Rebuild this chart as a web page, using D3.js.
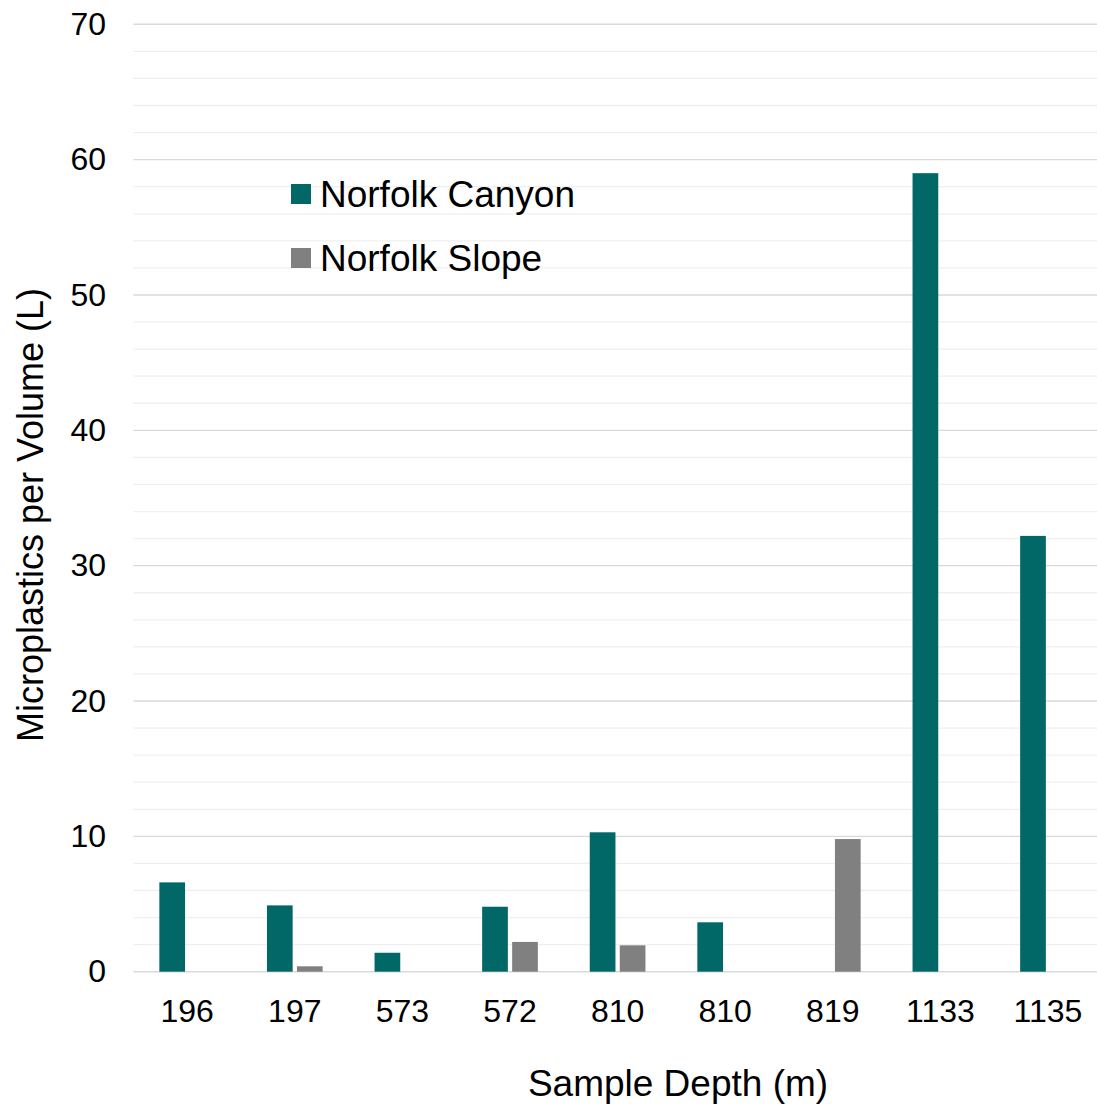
<!DOCTYPE html>
<html>
<head>
<meta charset="utf-8">
<script src="https://cdn.jsdelivr.net/npm/d3@7"></script>
<style>
  html, body { margin: 0; padding: 0; background: #fff; }
  svg { display: block; font-family: Arial, "Liberation Sans", sans-serif; }
</style>
</head>
<body>
<svg id="chart" width="1097" height="1108"></svg>
<script>
// Sample depths (one bar group per sample; 810 appears twice)
const depths = ["196", "197", "573", "572", "810", "810", "819", "1133", "1135"];
// Microplastics per litre, by site (null = no sample)
const canyonValues = [6.6, 4.9, 1.4, 4.8, 10.3, 3.65, null, 59.0, 32.2];
const slopeValues  = [null, 0.4, null, 2.2, 1.95, null, 9.8, null, null];
const seriesNames  = ["Norfolk Canyon", "Norfolk Slope"];
const seriesColors = ["#026867", "#808080"];
const yTicks = [0, 10, 20, 30, 40, 50, 60, 70];
const yMinorTicks = d3.range(0, 71, 2);

const svg = d3.select("#chart");
const W = 1097, H = 1108;
svg.append("rect").attr("width", W).attr("height", H).attr("fill", "#fff");

const plot = { left: 133.4, right: 1101.8, top: 24.3, bottom: 971.7 };

const x0 = d3.scaleBand()
  .domain(depths.map((d, i) => i))
  .range([plot.left, plot.right])
  .paddingInner(0).paddingOuter(0);

const x1 = d3.scaleBand()
  .domain(seriesNames)
  .range([0, x0.bandwidth()])
  .paddingInner(0.143)
  .paddingOuter(0.865);

const y = d3.scaleLinear().domain([0, 70]).range([plot.bottom, plot.top]);

// minor gridlines
svg.append("g").selectAll("line")
  .data(yMinorTicks.filter(v => v % 10 !== 0))
  .join("line")
  .attr("x1", plot.left).attr("x2", W)
  .attr("y1", d => y(d)).attr("y2", d => y(d))
  .attr("stroke", "#efefef").attr("stroke-width", 1.3);

// major gridlines
svg.append("g").selectAll("line")
  .data(yTicks)
  .join("line")
  .attr("x1", plot.left).attr("x2", W)
  .attr("y1", d => y(d)).attr("y2", d => y(d))
  .attr("stroke", "#d9d9d9").attr("stroke-width", 1.4);

// y-axis labels
const yAxis = d3.axisLeft(y).tickValues(yTicks).tickSize(0).tickPadding(0);
const gy = svg.append("g").attr("transform", "translate(106,0)").call(yAxis);
gy.select(".domain").remove();
gy.selectAll("text").attr("font-size", 32).attr("fill", "#000")
  .attr("font-family", "Arial, 'Liberation Sans', sans-serif");

// bars
const seriesData = [canyonValues, slopeValues];
seriesData.forEach((vals, s) => {
  svg.append("g").selectAll("rect")
    .data(vals.map((v, i) => ({ i, v })).filter(d => d.v != null))
    .join("rect")
    .attr("x", d => x0(d.i) + x1(seriesNames[s]))
    .attr("width", x1.bandwidth())
    .attr("y", d => y(d.v))
    .attr("height", d => y(0) - y(d.v))
    .attr("fill", seriesColors[s]);
});

// x-axis labels
const xAxis = d3.axisBottom(x0).tickFormat(i => depths[i]).tickSize(0).tickPadding(0);
const gx = svg.append("g").attr("transform", "translate(0,1022)").call(xAxis);
gx.select(".domain").remove();
gx.selectAll("text").attr("font-size", 32).attr("fill", "#000")
  .attr("dy", 0).attr("y", 0)
  .attr("font-family", "Arial, 'Liberation Sans', sans-serif");

// axis titles
svg.append("text")
  .attr("x", 678).attr("y", 1096)
  .attr("text-anchor", "middle")
  .attr("font-size", 37).attr("fill", "#000")
  .text("Sample Depth (m)");

svg.append("text")
  .attr("transform", "translate(43,515) rotate(-90)")
  .attr("text-anchor", "middle")
  .attr("font-size", 36).attr("fill", "#000")
  .text("Microplastics per Volume (L)");

// legend
const legend = svg.append("g").selectAll("g")
  .data(seriesNames)
  .join("g")
  .attr("transform", (d, i) => `translate(291,${194 + i * 64})`);
legend.append("rect")
  .attr("x", 0).attr("y", -10).attr("width", 20).attr("height", 20)
  .attr("fill", (d, i) => seriesColors[i]);
legend.append("text")
  .attr("x", 29).attr("y", 13)
  .attr("font-size", 37).attr("fill", "#000")
  .text(d => d);
</script>
</body>
</html>
